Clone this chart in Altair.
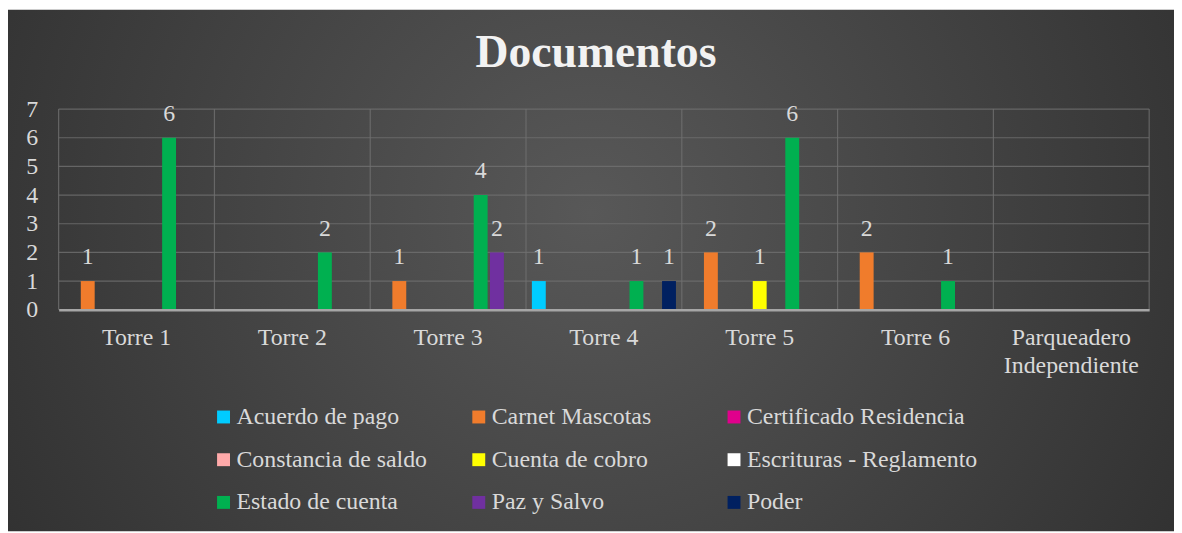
import altair as alt
import pandas as pd

categories = ["Torre 1", "Torre 2", "Torre 3", "Torre 4", "Torre 5", "Torre 6",
              "Parqueadero Independiente"]
series = ["Acuerdo de pago", "Carnet Mascotas", "Certificado Residencia",
          "Constancia de saldo", "Cuenta de cobro", "Escrituras - Reglamento",
          "Estado de cuenta", "Paz y Salvo", "Poder"]
colors = ["#00CCFF", "#F07C2C", "#E0008C", "#FFAAAA", "#FFFF00", "#FFFFFF",
          "#00B050", "#7030A0", "#002060"]
y_ticks = [0, 1, 2, 3, 4, 5, 6, 7]

acuerdo_de_pago = [0, 0, 0, 1, 0, 0, 0]
carnet_mascotas = [1, 0, 1, 0, 2, 2, 0]
certificado_residencia = [0, 0, 0, 0, 0, 0, 0]
constancia_de_saldo = [0, 0, 0, 0, 0, 0, 0]
cuenta_de_cobro = [0, 0, 0, 0, 1, 0, 0]
escrituras_reglamento = [0, 0, 0, 0, 0, 0, 0]
estado_de_cuenta = [6, 2, 4, 1, 6, 1, 0]
paz_y_salvo = [0, 0, 2, 0, 0, 0, 0]
poder = [0, 0, 0, 1, 0, 0, 0]

values = [acuerdo_de_pago, carnet_mascotas, certificado_residencia,
          constancia_de_saldo, cuenta_de_cobro, escrituras_reglamento,
          estado_de_cuenta, paz_y_salvo, poder]

rows = []
for s, vals in zip(series, values):
    for c, v in zip(categories, vals):
        if v:
            rows.append({"Torre": c, "Documento": s, "Cantidad": v})
df = pd.DataFrame(rows)
cat_df = pd.DataFrame({"Torre": categories})
last_df = pd.DataFrame({"Torre": categories[-1:]})
tick_df = pd.DataFrame({"Cantidad": y_ticks[1:]})

FONT = "Liberation Serif"
TXT = "#D9D9D9"
GRID = "#707070"
W, H = 1098, 202
PL, PT, PR, PB = 51, 100, 25, 223

x_scale = alt.Scale(domain=categories, paddingInner=0, paddingOuter=0)
y_scale = alt.Scale(domain=[0, 7], nice=False)

x_axis = alt.Axis(
    grid=False, ticks=False, labelAngle=0, zindex=1, bandPosition=0.5,
    labelAlign="center", labelBaseline="top",
    labelFont=FONT, labelFontSize=24, labelColor=TXT, labelPadding=16,
    labelLineHeight=28,
    labelExpr="datum.label == 'Parqueadero Independiente' ? ['Parqueadero', 'Independiente'] : datum.label",
    domainColor="#A6A6A6", domainWidth=2.5,
)
y_axis = alt.Axis(
    values=y_ticks, ticks=False, domain=False, grid=False, zindex=1,
    labelOverlap=False, labelFlush=False,
    labelFont=FONT, labelFontSize=24, labelColor=TXT, labelPadding=21,
)

bg = alt.Chart(alt.Data(values=[{}])).mark_rect(
    fill=alt.Gradient(
        gradient="radial",
        x1=0.5, y1=0.45, r1=0.0, x2=0.5, y2=0.45, r2=0.75,
        stops=[alt.GradientStop(color="#585858", offset=0),
               alt.GradientStop(color="#262626", offset=1)],
    ),
).encode(
    x=alt.value(-PL), x2=alt.value(W + PR),
    y=alt.value(-PT), y2=alt.value(H + PB),
)

title = alt.Chart(alt.Data(values=[{}])).mark_text(
    font=FONT, fontSize=46, fontWeight="bold", color="#F2F2F2",
    align="center", baseline="alphabetic",
).encode(
    x=alt.value(W / 2 - 8), y=alt.value(-42), text=alt.value("Documentos"),
)

vgrid = alt.Chart(cat_df).mark_rule(color=GRID, strokeWidth=1.2, opacity=0.8).encode(
    x=alt.X("Torre:N", sort=categories, scale=x_scale, bandPosition=0,
            title=None, axis=x_axis),
)
vgrid_end = alt.Chart(last_df).mark_rule(color=GRID, strokeWidth=1.2, opacity=0.8).encode(
    x=alt.X("Torre:N", sort=categories, scale=x_scale, bandPosition=1,
            title=None, axis=x_axis),
)
hgrid = alt.Chart(tick_df).mark_rule(color=GRID, strokeWidth=1.2, opacity=0.8).encode(
    y=alt.Y("Cantidad:Q", scale=y_scale, title=None, axis=y_axis),
)

xoff = alt.XOffset(
    "Documento:N", sort=series,
    scale=alt.Scale(domain=series, paddingInner=0.146, paddingOuter=0.36),
)

bars = alt.Chart(df).mark_bar().encode(
    x=alt.X("Torre:N", sort=categories, scale=x_scale, title=None, axis=x_axis),
    xOffset=xoff,
    y=alt.Y("Cantidad:Q", scale=y_scale, title=None, axis=y_axis),
    color=alt.Color(
        "Documento:N", sort=series,
        scale=alt.Scale(domain=series, range=colors),
        legend=alt.Legend(
            title=None, orient="none", legendX=154, legendY=298,
            columns=3, direction="horizontal", gridAlign="all",
            symbolType="square", symbolSize=169, symbolStrokeWidth=0,
            symbolOpacity=1,
            labelFont=FONT, labelFontSize=24, labelColor=TXT,
            labelOffset=1, rowPadding=19, columnPadding=0, labelLimit=400,
        ),
    ),
)

labels = alt.Chart(df).mark_text(
    font=FONT, fontSize=24, color=TXT, baseline="alphabetic", dy=-17,
).encode(
    x=alt.X("Torre:N", sort=categories, scale=x_scale, title=None, axis=x_axis),
    xOffset=xoff,
    y=alt.Y("Cantidad:Q", scale=y_scale, title=None, axis=y_axis),
    text=alt.Text("Cantidad:Q"),
)

chart = alt.layer(bg, title, vgrid, vgrid_end, hgrid, bars, labels).properties(
    width=W, height=H,
    padding={"left": PL, "top": PT, "right": PR, "bottom": PB},
    autosize=alt.AutoSizeParams(type="none"),
    background="white",
).configure_view(stroke=None)

chart.save("out.html", embed_options={"renderer": "svg", "actions": False})
